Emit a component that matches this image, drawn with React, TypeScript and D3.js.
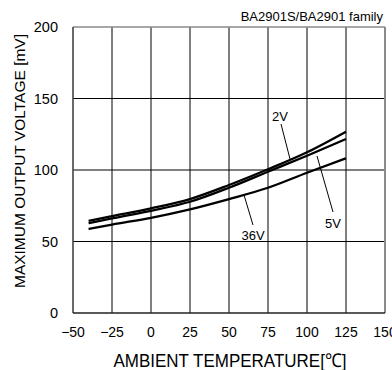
import React, { useEffect, useRef } from "react";
import * as d3 from "d3";

const temps = [-40, -25, 0, 25, 50, 75, 100, 125];
const v2 = [64.5, 67.8, 73.2, 79.7, 89.5, 100.5, 112.4, 126.8];
const v5 = [62.8, 66.2, 71.5, 77.8, 87.6, 98.8, 110, 121.7];
const v36 = [58.7, 61.8, 66.6, 72.5, 79.7, 87.6, 98.1, 108.2];
const xTicks = [-50, -25, 0, 25, 50, 75, 100, 125, 150];
const yTicks = [0, 50, 100, 150, 200];
const labels = [
  { text: "2V", tx: 280, ty: 121, x1: 281, y1: 124, x2: 290, y2: 159 },
  { text: "5V", tx: 333, ty: 228, x1: 317, y1: 156, x2: 333, y2: 212 },
  { text: "36V", tx: 253, ty: 240, x1: 244, y1: 195, x2: 253, y2: 225 },
];

export default function App() {
  const ref = useRef<SVGSVGElement>(null);

  useEffect(() => {
    const svg = d3.select(ref.current);
    svg.selectAll("*").remove();
    const left = 73, right = 385, top = 27, bottom = 313;
    const font = "Liberation Sans, Arial, sans-serif";

    const x = d3.scaleLinear().domain([-50, 150]).range([left, right]);
    const y = d3.scaleLinear().domain([0, 200]).range([bottom, top]);

    // grid
    const g = svg.append("g");
    g.selectAll(".vx")
      .data(xTicks.slice(1, -1))
      .enter()
      .append("line")
      .attr("x1", (d) => x(d)).attr("x2", (d) => x(d))
      .attr("y1", top).attr("y2", bottom)
      .attr("stroke", "#000").attr("stroke-width", 1);
    g.selectAll(".hy")
      .data(yTicks.slice(1, -1))
      .enter()
      .append("line")
      .attr("x1", left).attr("x2", right)
      .attr("y1", (d) => y(d)).attr("y2", (d) => y(d))
      .attr("stroke", "#000").attr("stroke-width", 1);

    // frame
    svg.append("line").attr("x1", left).attr("x2", right).attr("y1", top).attr("y2", top)
      .attr("stroke", "#8a8a8a").attr("stroke-width", 1.5);
    svg.append("line").attr("x1", right).attr("x2", right).attr("y1", top).attr("y2", bottom)
      .attr("stroke", "#8a8a8a").attr("stroke-width", 2);
    svg.append("line").attr("x1", left).attr("x2", left).attr("y1", top).attr("y2", bottom)
      .attr("stroke", "#444").attr("stroke-width", 1.6);
    svg.append("line").attr("x1", left).attr("x2", right).attr("y1", bottom).attr("y2", bottom)
      .attr("stroke", "#222").attr("stroke-width", 1.5);

    // tick labels
    svg.selectAll(".xt")
      .data(xTicks)
      .enter()
      .append("text")
      .attr("x", (d) => x(d))
      .attr("y", 337)
      .attr("text-anchor", "middle")
      .attr("font-family", font)
      .attr("font-size", 14)
      .text((d) => (d < 0 ? "\u2212" + Math.abs(d) : String(d)));
    svg.selectAll(".yt")
      .data(yTicks)
      .enter()
      .append("text")
      .attr("x", 58)
      .attr("y", (d) => y(d) + 5)
      .attr("text-anchor", "end")
      .attr("font-family", font)
      .attr("font-size", 14.5)
      .text((d) => String(d));

    // titles
    svg.append("text")
      .attr("transform", "translate(230,367) scale(1,1.12)")
      .attr("text-anchor", "middle")
      .attr("font-family", font).attr("font-size", 17)
      .text("AMBIENT TEMPERATURE[℃]");
    svg.append("text")
      .attr("transform", `translate(25,161) rotate(-90)`)
      .attr("text-anchor", "middle")
      .attr("font-family", font).attr("font-size", 15.5)
      .text("MAXIMUM OUTPUT VOLTAGE [mV]");
    svg.append("text")
      .attr("x", 383).attr("y", 21)
      .attr("text-anchor", "end")
      .attr("font-family", font).attr("font-size", 13)
      .text("BA2901S/BA2901 family");

    // curves
    const line = d3
      .line<number>()
      .x((_, i) => x(temps[i]))
      .y((d) => y(d))
      .curve(d3.curveMonotoneX);
    [v2, v5, v36].forEach((s) => {
      svg.append("path")
        .datum(s)
        .attr("fill", "none")
        .attr("stroke", "#000")
        .attr("stroke-width", 2.3)
        .attr("d", line);
    });

    // labels with leader lines
    labels.forEach((l) => {
      svg.append("line")
        .attr("x1", l.x1).attr("y1", l.y1).attr("x2", l.x2).attr("y2", l.y2)
        .attr("stroke", "#000").attr("stroke-width", 1);
      svg.append("text")
        .attr("x", l.tx).attr("y", l.ty)
        .attr("text-anchor", "middle")
        .attr("font-family", font).attr("font-size", 13)
        .text(l.text);
    });
  }, []);

  return (
    <svg
      ref={ref}
      width={392}
      height={370}
      style={{ position: "absolute", left: 0, top: 0, background: "#fff" }}
    />
  );
}
